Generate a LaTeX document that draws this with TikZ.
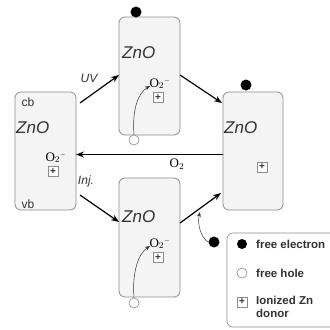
\documentclass[tikz,border=0pt]{standalone}
\usepackage{fontspec}
\setmainfont{Liberation Serif}
\setsansfont{Liberation Sans}
\usetikzlibrary{arrows.meta}
\definecolor{boxfill}{HTML}{F4F4F4}
\definecolor{boxline}{HTML}{8C8C8C}
\definecolor{txt}{HTML}{333333}
\tikzset{
  zbox/.style={draw=boxline, fill=boxfill, rounded corners=6pt, line width=0.8pt, inner sep=0pt},
  zlab/.style={font=\sffamily\itshape\fontsize{17}{17}\selectfont, text=txt, anchor=west, inner sep=0pt},
  small/.style={font=\sffamily\fontsize{12}{12}\selectfont, text=txt, inner sep=0pt},
  ital/.style={font=\sffamily\itshape\fontsize{12}{12}\selectfont, text=txt, inner sep=0pt},
  olab/.style={font=\fontsize{13}{13}\selectfont, inner sep=0pt},
  plusbox/.style={draw=boxline, fill=white, line width=0.6pt, minimum size=10pt, inner sep=0pt, font=\sffamily\fontsize{10}{10}\selectfont\bfseries, text=txt},
  elec/.style={circle, fill=black, minimum size=11pt, inner sep=0pt},
  hole/.style={circle, draw=boxline, fill=white, line width=0.6pt, minimum size=10pt, inner sep=0pt},
  arr/.style={-{Stealth[length=8pt,width=6pt]}, line width=1.2pt},
  thin arr/.style={-{Stealth[length=5pt,width=4pt]}, line width=0.5pt, draw=black!80},
  leg/.style={font=\sffamily\bfseries\fontsize{11.5}{13}\selectfont, text=txt, anchor=west, inner sep=0pt, align=left}
}
\newcommand{\otwominus}{O$_2{}^{\scriptscriptstyle -}$}
\begin{document}
\begin{tikzpicture}[x=1pt,y=-1pt]
\useasboundingbox (0,0) rectangle (330,330);
% boxes
\node[zbox, minimum width=61pt, minimum height=118pt] (L) at (45.5,151) {};
\node[zbox, minimum width=61pt, minimum height=118pt] (T) at (149.5,76) {};
\node[zbox, minimum width=61pt, minimum height=119pt] (B) at (149.5,237.5) {};
\node[zbox, minimum width=60pt, minimum height=118pt] (R) at (253,151) {};
% labels inside boxes
\node[zlab] (Lz) at (16,128) {ZnO};
\node[zlab] (Tz) at (122,53) {ZnO};
\node[zlab] (Bz) at (122,217) {ZnO};
\node[zlab] (Rz) at (224,128) {ZnO};
\node[small] (cb) at (28,102) {cb};
\node[small] (vb) at (28,204) {vb};
% O2- and donors
\node[olab, anchor=south] (Lo) at (56,163) {\otwominus};
\node[plusbox] (Lp) at (53,171.5) {+};
\node[olab, anchor=south] (To) at (160,89) {\otwominus};
\node[plusbox] (Tp) at (158,97.5) {+};
\node[olab, anchor=south] (Bo) at (160,249) {\otwominus};
\node[plusbox] (Bp) at (158,257.5) {+};
\node[plusbox] (Rp) at (262,167) {+};
% carriers
\node[elec] (Te) at (136,12) {};
\node[hole] (Th) at (134,140) {};
\node[hole] (Bh) at (134,303) {};
\node[elec] (Re) at (246,85) {};
\node[elec] (Oe) at (214,242) {};
% connector end points
\coordinate (uvs) at (80,103);
\coordinate (uve) at (119,75);
\coordinate (trs) at (180,75);
\coordinate (tre) at (222,103);
\coordinate (o2s) at (223,154.5);
\coordinate (o2e) at (76,154.5);
\coordinate (ijs) at (80,195);
\coordinate (ije) at (119,222);
\coordinate (brs) at (180,223);
\coordinate (bre) at (221,193);
\coordinate (tce) at (150,86);
\coordinate (bce) at (150,246);
\coordinate (oce) at (200,212);
% arrows
\draw[arr] (uvs) -- (uve);
\node[ital] (uvl) at (89,78) {UV};
\draw[arr] (trs) -- (tre);
\draw[arr] (o2s) -- (o2e);
\node[olab] (o2l) at (177,164) {O$_2$};
\draw[arr] (ijs) -- (ije);
\node[ital] (ijl) at (86,181) {Inj.};
\draw[arr] (brs) -- (bre);
% curved thin arrows
\draw[thin arr] (Th.north) .. controls (132,110) and (138,93) .. (tce);
\draw[thin arr] (Bh.north) .. controls (132,273) and (138,254) .. (bce);
\draw[thin arr] (Oe.west) .. controls (201,238) and (197,224) .. (oce);
% legend
\node[draw=boxline, fill=white, rounded corners=6pt, line width=0.6pt, minimum width=110pt, minimum height=94pt, inner sep=0pt] (leg) at (282,280) {};
\node[elec, minimum size=10pt] (le) at (242,244) {};
\node[leg] (let) at (256,244) {free electron};
\node[hole] (lh) at (242,273) {};
\node[leg] (lht) at (256,273) {free hole};
\node[plusbox] (lp) at (242,302) {+};
\node[leg, anchor=north west] (lpt) at (256,296) {Ionized Zn\\donor};
\end{tikzpicture}
\end{document}
